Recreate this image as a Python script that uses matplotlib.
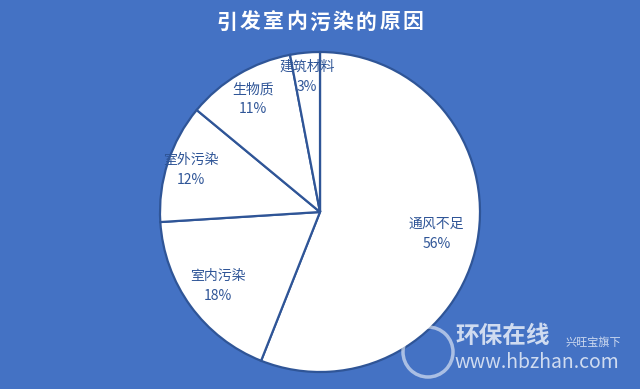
import matplotlib
matplotlib.use('Agg')
import matplotlib.pyplot as plt
from matplotlib.patches import Ellipse
import numpy as np

plt.rcParams['font.family'] = ['Noto Sans CJK SC', 'DejaVu Sans']

causes = ['通风不足', '室内污染', '室外污染', '生物质', '建筑材料']
shares = [56, 18, 12, 11, 3]
title = '引发室内污染的原因'

bg = '#4472C4'
dark = '#2F5597'
# label radius per slice (Excel-like placement)
label_r = [0.74, 0.79, 0.85, 0.82, 0.85]

W, H = 640, 389
fig = plt.figure(figsize=(W / 100, H / 100), dpi=100, facecolor=bg)
ax = fig.add_axes([0.25, 0.0437, 0.5, 0.8226])
ax.set_facecolor(bg)
wedges, _ = ax.pie(shares, startangle=90, counterclock=False,
                   colors=['white'] * len(shares),
                   wedgeprops=dict(edgecolor=dark, linewidth=1.6))
ax.set_xlim(-1, 1)
ax.set_ylim(-1, 1)
ax.set_aspect('equal')

for w, name, val, r in zip(wedges, causes, shares, label_r):
    ang = np.deg2rad((w.theta1 + w.theta2) / 2)
    ax.text(r * np.cos(ang), r * np.sin(ang), f'{name}\n{val}%',
            ha='center', va='center', fontsize=10, color=dark,
            linespacing=1.55)

# title, spaced out like the original
pitch = 23.2
x0 = W / 2 - pitch * (len(title) - 1) / 2
for i, ch in enumerate(title):
    fig.text((x0 + i * pitch) / W, 1 - 22 / H, ch, ha='center', va='center',
             fontsize=15, color='white', fontweight='bold')

# watermark
wm = dict(color='white', alpha=0.75, transform=fig.transFigure)
fig.patches.append(Ellipse((428 / W, 1 - 352 / H), 50 / W, 50 / H,
                           transform=fig.transFigure, fill=False,
                           edgecolor='white', alpha=0.55, lw=2.5))
fig.text(455 / W, 1 - 336 / H, '环保在线', fontsize=17, fontweight='bold',
         va='center', ha='left', **wm)
fig.text(566 / W, 1 - 342 / H, '兴旺宝旗下', fontsize=8,
         va='center', ha='left', **wm)
fig.text(454 / W, 1 - 363 / H, 'www.hbzhan.com', fontsize=14,
         va='center', ha='left', **wm)

fig.savefig('out.png', dpi=100, facecolor=bg)
